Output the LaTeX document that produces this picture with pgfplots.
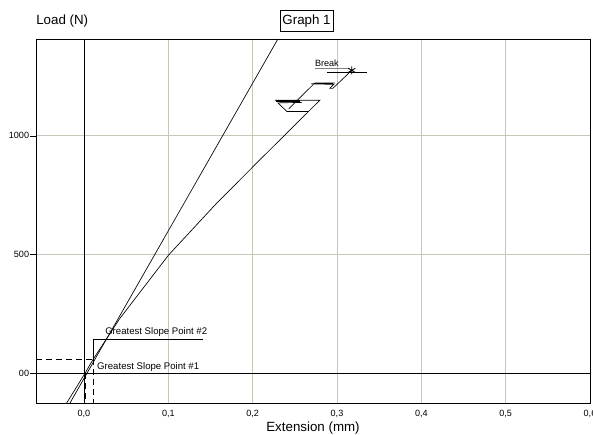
\documentclass[border=0pt]{standalone}
\usepackage{pgfplots}
\pgfplotsset{compat=1.18}
\usetikzlibrary{calc}
\usepackage{fontspec}
\setmainfont{Liberation Sans}
\definecolor{gridc}{RGB}{200,197,186}
\begin{document}
\begin{tikzpicture}
\begin{axis}[name=ax, scale only axis, width=415.5pt, height=273pt,
  xmin=-0.0569, xmax=0.6, ymin=-125, ymax=1408,
  axis line style={line width=0.6pt},
  xtick={0,0.1,0.2,0.3,0.4,0.5,0.6},
  xticklabels={{0,0},{0,1},{0,2},{0,3},{0,4},{0,5},{0,6}},
  ytick={0,500,1000}, yticklabels={00,500,1000},
  tick align=outside, major tick length=4.5pt,
  ytick pos=left, xtick pos=bottom,
  xtick style={draw=none},
  ytick style={black, line width=0.5pt},
  grid=major, grid style={gridc, line width=0.6pt},
  /pgf/number format/assume math mode=true,
  tick label style={font=\fontsize{6.8}{8}\selectfont},
  yticklabel style={inner sep=0.5pt},
  xticklabel style={inner sep=0pt, anchor=north, yshift=-1pt},
  xlabel={Extension (mm)},
  xlabel style={font=\fontsize{10}{12}\selectfont, at={(rel axis cs:0.5,0)}, anchor=north, inner sep=0pt, yshift=-13.8pt},
  clip=true,
]
% zero lines
\addplot[black, line width=0.6pt] coordinates {(-0.0569,0) (0.6,0)};
\addplot[black, line width=0.6pt] coordinates {(0,-125) (0,1408)};
% dashed construction lines
\addplot[black, line width=0.5pt, dash pattern=on 4.5pt off 3pt] coordinates {(-0.0569,60) (0.011,60)};
\addplot[black, line width=0.5pt, dash pattern=on 4.5pt off 3pt] coordinates {(0.011,60) (0.011,-125)};
\addplot[black, line width=0.5pt, dash pattern=on 4.5pt off 3pt] coordinates {(0.0012,0) (0.0012,-125)};
% main curve
\addplot[black, line width=0.5pt] coordinates {
(-0.0205,-125) (0.0012,0) (0.011,60) (0.0427,232) (0.1004,498.5) (0.1572,716)
(0.2085,899) (0.2796,1150) (0.2263,1150) (0.2583,1141) (0.2299,1139)
(0.2405,1103) (0.2666,1103)};
\addplot[black, line width=0.5pt] coordinates {
(0.2429,1114) (0.2737,1223) (0.2974,1223) (0.2690,1219) (0.2962,1217)
(0.2915,1200) (0.2950,1200) (0.3175,1276)};
\addplot[black, line width=1.2pt] coordinates {(0.2280,1146) (0.2560,1146)};
\addplot[black, line width=1.2pt] coordinates {(0.2737,1221) (0.2950,1221)};
% greatest slope line
\addplot[black, line width=0.5pt] coordinates {(-0.0166,-125) (0.2299,1408)};
% break marker
\addplot[black, only marks, mark=asterisk, mark size=3pt, mark options={line width=0.6pt}] coordinates {(0.3175,1276)};
\addplot[black, line width=0.6pt] coordinates {(0.288,1268) (0.3353,1268)};
\addplot[gray, line width=0.5pt] coordinates {(0.2737,1284) (0.315,1284)};
% leader for GSP #2
\addplot[black, line width=0.5pt] coordinates {(0.011,60) (0.011,144.5) (0.141,144.5)};
\node[anchor=west, inner sep=0pt, font=\fontsize{7.2}{8}\selectfont] at (axis cs:0.0249,172) {Greatest Slope Point \#2};
\node[anchor=west, inner sep=0pt, font=\fontsize{7.2}{8}\selectfont] at (axis cs:0.0154,25) {Greatest Slope Point \#1};
\node[anchor=west, inner sep=0pt, font=\fontsize{6.8}{8}\selectfont] at (axis cs:0.2737,1305) {Break};
\end{axis}
\node[anchor=west, inner sep=0pt, font=\fontsize{10}{12}\selectfont] at ($(ax.north west)+(0,13.5pt)$) {Load (N)};
\node[draw, line width=0.5pt, inner xsep=1.8pt, inner ysep=3pt, font=\fontsize{10}{12}\selectfont] at ($(ax.north west)+(202.9pt,13.75pt)$) {Graph 1};
\pgfresetboundingbox
\path (ax.south west) ++(-27pt,-24pt) rectangle ++(444.75pt,326.25pt);
\end{tikzpicture}
\end{document}
